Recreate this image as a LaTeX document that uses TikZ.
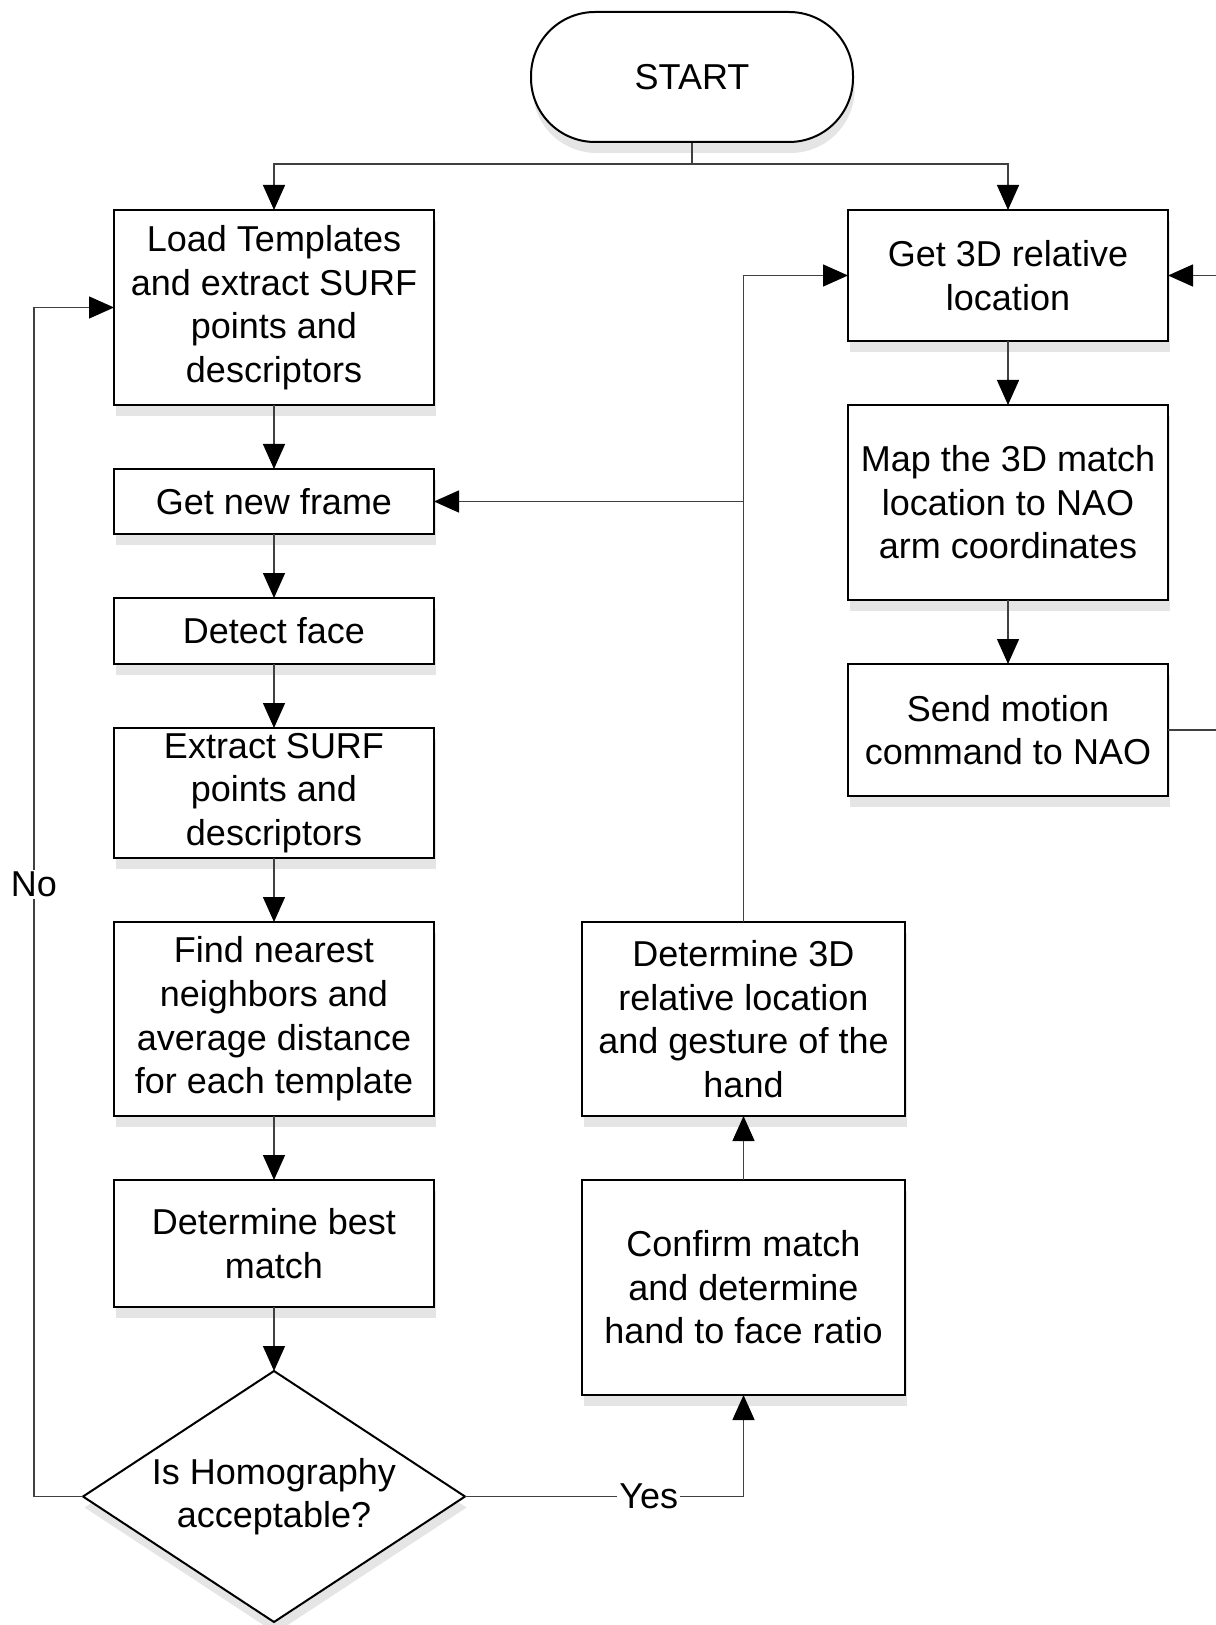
\documentclass[tikz,border=0pt]{standalone}
\usepackage{fontspec}
\setmainfont{Liberation Sans}
\usetikzlibrary{shapes.geometric, shadows, calc, positioning, arrows.meta}

\begin{document}
\begin{tikzpicture}[x=0.5pt, y=-0.5pt,
  shd/.style={drop shadow={shadow xshift=0.8pt, shadow yshift=-5.5pt, fill=black!10, opacity=1}},
  term/.style={draw, line width=1pt, fill=white, shd, rounded corners=32pt, minimum width=161pt, minimum height=65pt, align=center, font=\fontsize{18}{21.8}\selectfont},
  proc/.style={draw, line width=1pt, fill=white, shd, minimum width=160pt, inner ysep=1pt, align=center, outer sep=0pt, font=\fontsize{18}{21.8}\selectfont},
  dec/.style={draw, diamond, line width=1pt, fill=white, shd, minimum width=191pt, minimum height=125.5pt, aspect=1.52, inner sep=0pt, outer sep=0pt, align=center, font=\fontsize{18}{21.8}\selectfont},
  lbl/.style={fill=white, inner sep=1pt, font=\fontsize{18}{21.8}\selectfont},
  line/.style={line width=0.7pt, draw=black!75},
  >={Triangle[length=12.5pt, width=11pt, color=black]}, node distance=32pt]
  \useasboundingbox (0,0) rectangle (1215,1625);
  \node[term] (start) at (692,77) {START};
  \node[proc, minimum height=97.5pt, anchor=north] (load) at (274,210) {Load Templates\\and extract SURF\\points and\\descriptors};
  \node[proc, minimum height=32.5pt, below=of load] (frame) {Get new frame};
  \node[proc, minimum height=33pt, below=of frame] (face) {Detect face};
  \node[proc, minimum height=65pt, below=of face] (surf) {Extract SURF\\points and\\descriptors};
  \node[proc, minimum height=97pt, below=of surf] (near) {Find nearest\\neighbors and\\average distance\\for each template};
  \node[proc, minimum height=63.5pt, below=of near] (best) {Determine best\\match};
  \node[dec, below=of best] (homog) {Is Homography\\acceptable?};
  \node[proc, minimum height=65.5pt, anchor=north] (loc) at (1008,210) {Get 3D relative\\location};
  \node[proc, minimum height=97.5pt, below=of loc] (map) {Map the 3D match\\location to NAO\\arm coordinates};
  \node[proc, minimum height=66pt, below=of map] (send) {Send motion\\command to NAO};
  \node[proc, minimum width=161.5pt, minimum height=97pt, anchor=north] (det) at (near.north -| 743.5,0) {Determine 3D\\relative location\\and gesture of the\\hand};
  \node[proc, minimum width=161.5pt, minimum height=107.5pt, below=of det] (conf) {Confirm match\\and determine\\hand to face ratio};
  \coordinate (lx) at (34,0);
  \coordinate (rx) at (1240,0);
  % start splits to both columns
  \draw[line] (start.south) -- ++(0,21) coordinate (split);
  \draw[line,->] (split) -| (load.north);
  \draw[line,->] (split) -| (loc.north);
  % left column
  \draw[line,->] (load) -- (frame);
  \draw[line,->] (frame) -- (face);
  \draw[line,->] (face) -- (surf);
  \draw[line,->] (surf) -- (near);
  \draw[line,->] (near) -- (best);
  \draw[line,->] (best) -- (homog);
  \draw[line,->] (homog.west) -- (homog.west -| lx) -- node[lbl, pos=0.515] {No} (lx |- load.west) -- (load.west);
  \draw[line,->] (homog.east) -- node[lbl, pos=0.66] {Yes} (homog.east -| conf.south) -- (conf.south);
  % middle column
  \draw[line,->] (conf) -- (det);
  \draw[line,->] (det.north) |- (loc.west);
  \coordinate (j) at (det.north |- frame.east);
  \draw[line,->] (j) -- (frame.east);
  % right column
  \draw[line,->] (loc) -- (map);
  \draw[line,->] (map) -- (send);
  \draw[line,->] (send.east) -- (send.east -| rx) |- (loc.east);
\end{tikzpicture}
\end{document}
